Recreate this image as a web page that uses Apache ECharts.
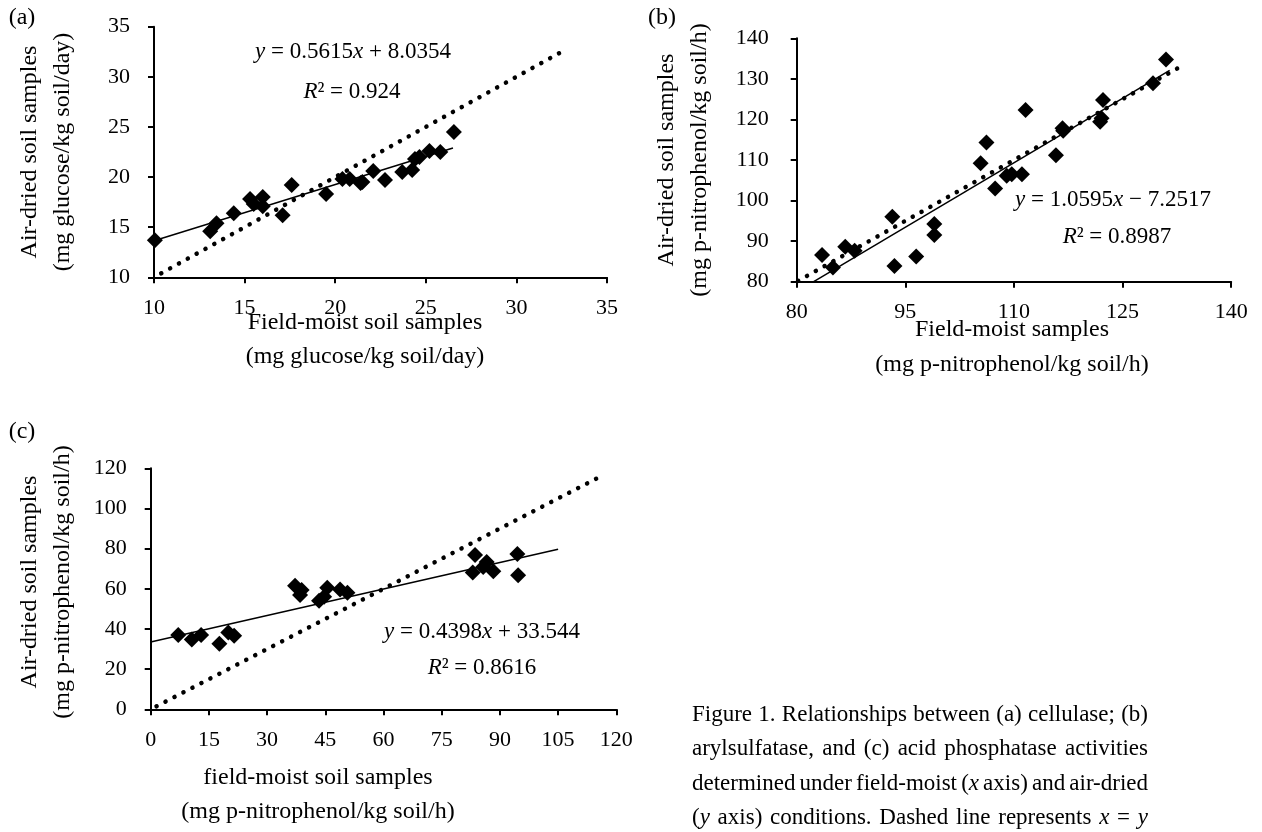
<!DOCTYPE html>
<html>
<head>
<meta charset="utf-8">
<script src="https://cdn.jsdelivr.net/npm/echarts@6/dist/echarts.min.js"></script>
<style>
html,body{margin:0;padding:0;background:#fff;}
#chart{width:1262px;height:832px;}
</style>
</head>
<body>
<div id="chart"></div>
<script>
// ---------- Data ----------
// (a) cellulase (mg glucose/kg soil/day): [field-moist, air-dried]
const cellulasePoints = [
  [10.05,13.7],[13.1,14.6],[13.45,15.4],[14.4,16.4],[15.3,17.8],[15.5,17.3],[16.0,18.0],[16.0,17.1],
  [17.1,16.2],[17.6,19.2],[19.5,18.3],[20.4,19.8],[20.8,19.8],[21.4,19.4],[21.5,19.5],[22.1,20.6],
  [22.75,19.7],[23.7,20.5],[24.25,20.7],[24.4,21.8],[24.65,22.0],[25.2,22.6],[25.8,22.5],[26.55,24.5]
];
const cellulaseTrend = [[10,13.65],[26.5,22.9]];
const cellulaseIdentity = [[10.4,10.4],[32.6,32.6]];
const cellulaseTicks = {min:10, max:35, step:5};

// (b) arylsulfatase (mg p-nitrophenol/kg soil/h)
const arylPoints = [
  [83.5,86.6],[85.0,83.5],[86.7,88.6],[88.0,87.6],[93.2,96.0],[93.5,83.9],[96.5,86.2],[99.0,94.2],
  [99.0,91.5],[105.4,109.2],[106.2,114.3],[107.4,103.0],[109.0,106.1],[109.7,106.5],[111.1,106.5],
  [111.6,122.3],[115.8,111.2],[116.7,117.8],[116.8,117.2],[121.9,119.4],[122.1,120.3],[122.3,124.8],
  [129.2,128.9],[131.0,134.8]
];
const arylTrend = [[82.35,80],[131.5,132.1]];
const arylIdentity = [[80.2,80.2],[133,133]];
const arylTicks = {min:80, max:140, xStep:15, yStep:10};

// (c) acid phosphatase (mg p-nitrophenol/kg soil/h)
const phosPoints = [
  [7.1,37.0],[10.6,34.8],[13.0,37.0],[17.7,32.6],[20.0,38.3],[21.5,36.6],[37.2,61.5],[38.9,59.4],
  [38.5,56.9],[43.4,54.0],[44.7,56.0],[45.5,60.5],[48.8,59.7],[50.7,58.0],[83.0,68.1],[83.6,76.8],
  [85.7,70.9],[86.6,73.4],[88.3,68.8],[94.5,77.3],[94.7,66.8]
];
const phosTrend = [[0,33.54],[105,79.72]];
const phosIdentity = [[1.5,1.5],[115,115]];
const phosTicks = {xMin:0, xMax:120, xStep:15, yMin:0, yMax:120, yStep:20};

const captionLines = [
  'Figure 1. Relationships between (a) cellulase; (b)',
  'arylsulfatase, and (c) acid phosphatase activities',
  'determined under field-moist ({i|x} axis) and air-dried',
  '({i|y} axis) conditions. Dashed line represents {i|x} = {i|y}'
];

// ---------- Chart ----------
const FONT = 'Liberation Serif';
const FS_TICK = 22, FS_TITLE = 24, FS_EQ = 23, FS_CAP = 23;
const chart = echarts.init(document.getElementById('chart'), null, {renderer:'canvas'});

function axisCommon(margin){
  return {
    axisLine:{show:true, onZero:false, lineStyle:{color:'#000', width:2}},
    axisTick:{show:true, inside:false, length:6, lineStyle:{color:'#000', width:2}},
    splitLine:{show:false},
    axisLabel:{color:'#000', fontFamily:FONT, fontSize:FS_TICK, margin:margin}
  };
}
function ax(grid,min,max,step,margin){
  return Object.assign({type:'value', gridIndex:grid, min:min, max:max, interval:step}, axisCommon(margin));
}
function scatter(i,data){
  return {type:'scatter', xAxisIndex:i, yAxisIndex:i, data:data, symbol:'diamond', symbolSize:16,
    itemStyle:{color:'#000', opacity:1}, silent:true, z:5};
}
function trend(i,data){
  return {type:'line', xAxisIndex:i, yAxisIndex:i, data:data, showSymbol:false, symbol:'none',
    lineStyle:{color:'#000', width:1.5}, silent:true, z:3};
}
function ident(i,data){
  return {type:'line', xAxisIndex:i, yAxisIndex:i, data:data, showSymbol:false, symbol:'none',
    lineStyle:{color:'#000', width:4.5, type:[0.1,10], cap:'round'}, silent:true, z:2};
}

function richFor(fs){ return {i:{fontStyle:'italic', fontFamily:FONT, fontSize:fs, fill:'#000'}}; }
function txt(x,y,s,fs,opts){
  return {type:'text', x:x, y:y, style:Object.assign({text:s, fontFamily:FONT, fontSize:fs,
    fill:'#000', align:'center', verticalAlign:'middle', rich:richFor(fs)}, opts||{})};
}
function vtxt(x,y,s){
  return {type:'text', x:x, y:y, rotation:Math.PI/2,
    style:{text:s, fontFamily:FONT, fontSize:FS_TITLE, fill:'#000', align:'center', verticalAlign:'middle'}};
}

// measure helper for justified caption
const mctx = document.createElement('canvas').getContext('2d');
function measure(word, fs){
  let w = 0;
  const re = /\{i\|([^}]*)\}|([^{]+)/g; let m;
  while((m = re.exec(word))){
    if(m[1] !== undefined){ mctx.font = 'italic ' + fs + 'px "' + FONT + '"'; w += mctx.measureText(m[1]).width; }
    else { mctx.font = fs + 'px "' + FONT + '"'; w += mctx.measureText(m[2]).width; }
  }
  return w;
}

const graphics = [
  txt(22,18,'(a)',FS_TITLE), txt(662,18,'(b)',FS_TITLE), txt(22,432,'(c)',FS_TITLE),
  vtxt(30,152,'Air-dried soil samples'), vtxt(63,152,'(mg glucose/kg soil/day)'),
  vtxt(667,160,'Air-dried soil samples'), vtxt(700,160,'(mg p-nitrophenol/kg soil/h)'),
  vtxt(30,582,'Air-dried soil samples'), vtxt(63,582,'(mg p-nitrophenol/kg soil/h)'),
  txt(353,52,'{i|y} = 0.5615{i|x} + 8.0354',FS_EQ), txt(352,92,'{i|R}² = 0.924',FS_EQ),
  txt(1113,200,'{i|y} = 1.0595{i|x} − 7.2517',FS_EQ), txt(1117,237,'{i|R}² = 0.8987',FS_EQ),
  txt(482,632,'{i|y} = 0.4398{i|x} + 33.544',FS_EQ), txt(482,668,'{i|R}² = 0.8616',FS_EQ),
  txt(365,323,'Field-moist soil samples',FS_TITLE), txt(365,357,'(mg glucose/kg soil/day)',FS_TITLE),
  txt(1012,330,'Field-moist samples',FS_TITLE), txt(1012,365,'(mg p-nitrophenol/kg soil/h)',FS_TITLE),
  txt(318,778,'field-moist soil samples',FS_TITLE), txt(318,812,'(mg p-nitrophenol/kg soil/h)',FS_TITLE)
];
const CAP_L = 692, CAP_R = 1148;
captionLines.forEach(function(l,k){
  const words = l.split(' ');
  const widths = words.map(function(w){ return measure(w, FS_CAP); });
  const total = widths.reduce(function(a,b){return a+b;},0);
  const gap = (CAP_R - CAP_L - total) / (words.length - 1);
  let x = CAP_L;
  const y = 715 + k*34.3;
  words.forEach(function(w,j){
    graphics.push(txt(x, y, w, FS_CAP, {align:'left'}));
    x += widths[j] + gap;
  });
});

chart.setOption({
  animation:false,
  backgroundColor:'#fff',
  grid:[
    {left:154, top:26.7, width:453, height:250.6},
    {left:796.7, top:38.3, width:434.5, height:243.4},
    {left:150.7, top:468.3, width:465.6, height:241}
  ],
  xAxis:[
    ax(0,cellulaseTicks.min,cellulaseTicks.max,cellulaseTicks.step,20),
    ax(1,arylTicks.min,arylTicks.max,arylTicks.xStep,20),
    ax(2,phosTicks.xMin,phosTicks.xMax,phosTicks.xStep,20)
  ],
  yAxis:[
    ax(0,cellulaseTicks.min,cellulaseTicks.max,cellulaseTicks.step,24),
    ax(1,arylTicks.min,arylTicks.max,arylTicks.yStep,28),
    ax(2,phosTicks.yMin,phosTicks.yMax,phosTicks.yStep,24)
  ],
  series:[
    ident(0,cellulaseIdentity), trend(0,cellulaseTrend), scatter(0,cellulasePoints),
    ident(1,arylIdentity), trend(1,arylTrend), scatter(1,arylPoints),
    ident(2,phosIdentity), trend(2,phosTrend), scatter(2,phosPoints)
  ],
  graphic:graphics
});
</script>
</body>
</html>
